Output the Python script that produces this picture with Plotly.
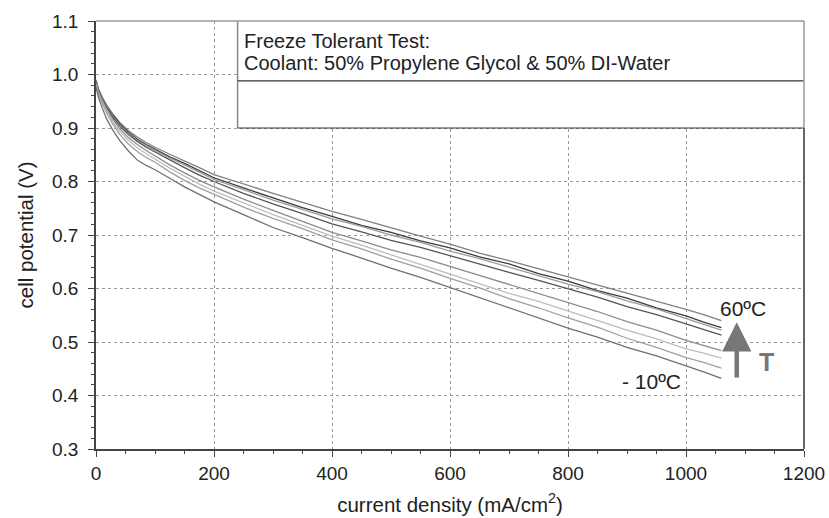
import plotly.graph_objects as go

current_density = [0, 4, 10, 18, 28, 40, 55, 70, 85, 100, 125, 150, 175, 200, 250, 300, 350,
                   400, 450, 500, 550, 600, 650, 700, 750, 800, 850, 900, 950, 1000, 1030, 1060]

# curves, top (warm, 60 C) to bottom (-10 C)
curve_a = [0.990, 0.974, 0.959, 0.943, 0.927, 0.911, 0.895, 0.883, 0.873, 0.864, 0.851, 0.839, 0.826, 0.813, 0.795, 0.778, 0.761,
           0.744, 0.729, 0.713, 0.698, 0.683, 0.666, 0.652, 0.637, 0.621, 0.607, 0.591, 0.577, 0.561, 0.551, 0.540]
curve_b = [0.988, 0.972, 0.957, 0.941, 0.925, 0.908, 0.892, 0.879, 0.869, 0.860, 0.846, 0.834, 0.820, 0.807, 0.788, 0.770, 0.751,
           0.735, 0.718, 0.705, 0.689, 0.676, 0.659, 0.646, 0.628, 0.614, 0.596, 0.582, 0.564, 0.549, 0.537, 0.527]
curve_c = [0.987, 0.971, 0.956, 0.940, 0.923, 0.906, 0.890, 0.877, 0.867, 0.858, 0.844, 0.831, 0.817, 0.804, 0.785, 0.765, 0.748,
           0.730, 0.716, 0.700, 0.686, 0.670, 0.656, 0.640, 0.625, 0.608, 0.594, 0.577, 0.562, 0.544, 0.534, 0.522]
curve_d = [0.986, 0.970, 0.954, 0.938, 0.921, 0.904, 0.888, 0.875, 0.864, 0.855, 0.840, 0.826, 0.812, 0.800, 0.778, 0.758, 0.740,
           0.721, 0.706, 0.690, 0.677, 0.661, 0.646, 0.630, 0.615, 0.599, 0.584, 0.566, 0.551, 0.534, 0.523, 0.513]
curve_e = [0.984, 0.968, 0.952, 0.935, 0.917, 0.899, 0.882, 0.869, 0.858, 0.848, 0.831, 0.816, 0.802, 0.790, 0.767, 0.746, 0.725,
           0.705, 0.689, 0.672, 0.658, 0.641, 0.625, 0.607, 0.591, 0.573, 0.557, 0.538, 0.522, 0.503, 0.494, 0.484]
curve_f = [0.982, 0.966, 0.950, 0.932, 0.913, 0.894, 0.877, 0.863, 0.852, 0.842, 0.825, 0.810, 0.795, 0.782, 0.760, 0.738, 0.718,
           0.698, 0.681, 0.663, 0.646, 0.627, 0.610, 0.591, 0.576, 0.558, 0.541, 0.522, 0.506, 0.487, 0.479, 0.470]
curve_g = [0.980, 0.964, 0.947, 0.928, 0.908, 0.888, 0.870, 0.856, 0.845, 0.836, 0.818, 0.802, 0.788, 0.776, 0.752, 0.731, 0.712,
           0.691, 0.674, 0.655, 0.638, 0.619, 0.601, 0.581, 0.564, 0.545, 0.528, 0.507, 0.490, 0.471, 0.462, 0.451]
curve_h = [0.976, 0.958, 0.939, 0.917, 0.897, 0.877, 0.857, 0.840, 0.830, 0.822, 0.806, 0.790, 0.776, 0.762, 0.738, 0.714, 0.695,
           0.675, 0.657, 0.638, 0.621, 0.602, 0.582, 0.563, 0.545, 0.526, 0.509, 0.490, 0.474, 0.456, 0.444, 0.432]

curves = [curve_a, curve_b, curve_c, curve_d, curve_e, curve_f, curve_g, curve_h]
colors = ['#808080', '#3c3c3c', '#9a9a9a', '#555555', '#8c8c8c', '#bdbdbd', '#a0a0a0', '#707070']

x_ticks = [0, 200, 400, 600, 800, 1000, 1200]
y_ticks = [0.3, 0.4, 0.5, 0.6, 0.7, 0.8, 0.9, 1.0, 1.1]

FONT = 'Liberation Sans, Arial, sans-serif'

fig = go.Figure()
for c, col in zip(curves, colors):
    fig.add_trace(go.Scatter(x=current_density, y=c, mode='lines',
                             line=dict(color=col, width=1.3), showlegend=False,
                             hoverinfo='skip'))

axis_common = dict(showline=True, linecolor='#444', linewidth=1.5, ticks='outside',
                   tickcolor='#444', ticklen=6, tickwidth=1, showgrid=True,
                   gridcolor='#9a9a9a', griddash='dot', gridwidth=1, zeroline=False,
                   automargin=False,
                   tickfont=dict(family=FONT, size=19, color='#222'))

fig.update_xaxes(range=[0, 1200], tickvals=x_ticks, ticktext=[str(v) for v in x_ticks],
                 minor=dict(dtick=50, ticklen=3, ticks='outside', tickcolor='#444', showgrid=False),
                 title=dict(text='current density (mA/cm<sup>2</sup>)', standoff=15,
                            font=dict(family=FONT, size=20.5, color='#222')),
                 **axis_common)
fig.update_yaxes(range=[0.3, 1.1], tickvals=y_ticks, ticktext=['%.1f' % v for v in y_ticks],
                 minor=dict(dtick=0.02, ticklen=3, ticks='outside', tickcolor='#444', showgrid=False),
                 title=dict(text='cell potential (V)', standoff=13,
                            font=dict(family=FONT, size=20.5, color='#222')),
                 ticklabelstandoff=6,
                 **axis_common)

shapes = [
    # info box (white background)
    dict(type='rect', xref='x', yref='y', x0=240, x1=1200, y0=0.9, y1=1.1,
         fillcolor='white', line=dict(width=0), layer='above'),
    dict(type='line', xref='x', yref='y', x0=240, x1=240, y0=0.9, y1=1.1,
         line=dict(color='#888', width=1.5), layer='above'),
    dict(type='line', xref='x', yref='y', x0=240, x1=1200, y0=0.988, y1=0.988,
         line=dict(color='#333', width=1.2), layer='above'),
    dict(type='line', xref='x', yref='y', x0=240, x1=1200, y0=0.9, y1=0.9,
         line=dict(color='#333', width=1.2), layer='above'),
    # top frame
    dict(type='line', xref='paper', yref='paper', x0=0, x1=1, y0=1, y1=1,
         line=dict(color='#999', width=1.5), layer='above'),
    # right frame
    dict(type='line', xref='paper', yref='y', x0=1, x1=1, y0=0.9, y1=1.1,
         line=dict(color='#999', width=1.5), layer='above'),
    dict(type='line', xref='paper', yref='y', x0=1, x1=1, y0=0.3, y1=0.9,
         line=dict(color='#333', width=1.5), layer='above'),
]

annotations = [
    dict(x=247, y=1.063, xref='x', yref='y', text='Freeze Tolerant Test:', showarrow=False,
         xanchor='left', yanchor='middle', font=dict(family=FONT, size=20, color='#222')),
    dict(x=247, y=1.021, xref='x', yref='y', text='Coolant: 50% Propylene Glycol &amp; 50% DI-Water',
         showarrow=False, xanchor='left', yanchor='middle', font=dict(family=FONT, size=20, color='#222')),
    dict(x=1096, y=0.563, xref='x', yref='y', text='60ºC', showarrow=False,
         font=dict(family=FONT, size=21, color='#222')),
    dict(x=942, y=0.427, xref='x', yref='y', text='- 10ºC', showarrow=False,
         font=dict(family=FONT, size=21, color='#222')),
    dict(x=1136, y=0.463, xref='x', yref='y', text='<b>T</b>', showarrow=False,
         font=dict(family=FONT, size=25, color='#777')),
    dict(x=1086, y=0.537, ax=1086, ay=0.431, xref='x', yref='y', axref='x', ayref='y',
         text='', showarrow=True, arrowhead=2, arrowsize=1.3, arrowwidth=4.5, arrowcolor='#777'),
]

fig.update_layout(width=829, height=518, margin=dict(l=96, r=25, t=21, b=69),
                  paper_bgcolor='white', plot_bgcolor='white',
                  shapes=shapes, annotations=annotations,
                  font=dict(family=FONT, color='#222'))

fig.write_html('out.html')
